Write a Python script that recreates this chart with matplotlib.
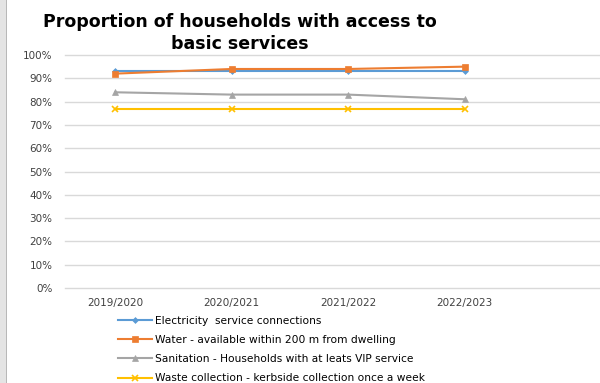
import matplotlib
matplotlib.use('Agg')
import matplotlib.pyplot as plt
from matplotlib.patches import Rectangle
from matplotlib.ticker import PercentFormatter

years = ["2019/2020", "2020/2021", "2021/2022", "2022/2023"]
electricity = [93, 93, 93, 93]
water = [92, 94, 94, 95]
sanitation = [84, 83, 83, 81]
waste = [77, 77, 77, 77]

labels = ["Electricity  service connections",
          "Water - available within 200 m from dwelling",
          "Sanitation - Households with at leats VIP service",
          "Waste collection - kerbside collection once a week"]
colors = ["#5b9bd5", "#ed7d31", "#a5a5a5", "#ffc000"]
markers = ["D", "s", "^", "x"]
msizes = [3, 5, 4.5, 5]

W, H = 600, 383
fig = plt.figure(figsize=(W / 100, H / 100), dpi=100)

# plot area in pixels: left 65, right 600, top 55, bottom 288
ax = fig.add_axes([65 / W, 1 - 288 / H, (600 - 65) / W, (288 - 55) / H])
x = range(len(years))
series = [electricity, water, sanitation, waste]
for vals, lab, c, m, ms in zip(series, labels, colors, markers, msizes):
    ax.plot(x, vals, color=c, marker=m, markersize=ms, linewidth=1.5,
            label=lab, markeredgewidth=1.2 if m == "x" else 0.5)

ax.set_ylim(0, 100)
ax.set_yticks(range(0, 101, 10))
ax.yaxis.set_major_formatter(PercentFormatter(decimals=0))
ax.set_xlim(-0.43, 4.16)
ax.set_xticks(list(x))
ax.set_xticklabels(years)
ax.grid(axis='y', color='#d9d9d9', linewidth=1)
for gl in ax.get_ygridlines():
    gl.set_clip_on(False)
ax.set_axisbelow(True)
for s in ax.spines.values():
    s.set_visible(False)
ax.tick_params(length=0, labelsize=7.5, colors='#404040')
ax.tick_params(axis='y', pad=9)
ax.tick_params(axis='x', pad=7)

fig.text(240 / W, 1 - 33 / H, "Proportion of households with access to\nbasic services",
         ha='center', va='center', fontsize=12.5, fontweight='bold',
         linespacing=1.35)

leg = fig.legend(loc='upper left', bbox_to_anchor=(118 / W, 1 - 316 / H),
                 frameon=False, fontsize=7.7, handlelength=3.2,
                 handletextpad=0.3, labelspacing=0.85, borderaxespad=0,
                 borderpad=0)

# grey strip down the left edge
fig.patches.append(Rectangle((0, 0), 6 / W, 1, transform=fig.transFigure,
                             facecolor='#e4e4e4', edgecolor='none'))
fig.patches.append(Rectangle((6 / W, 0), 1 / W, 1, transform=fig.transFigure,
                             facecolor='#b8b8b8', edgecolor='none'))

fig.savefig("out.png", dpi=100)
